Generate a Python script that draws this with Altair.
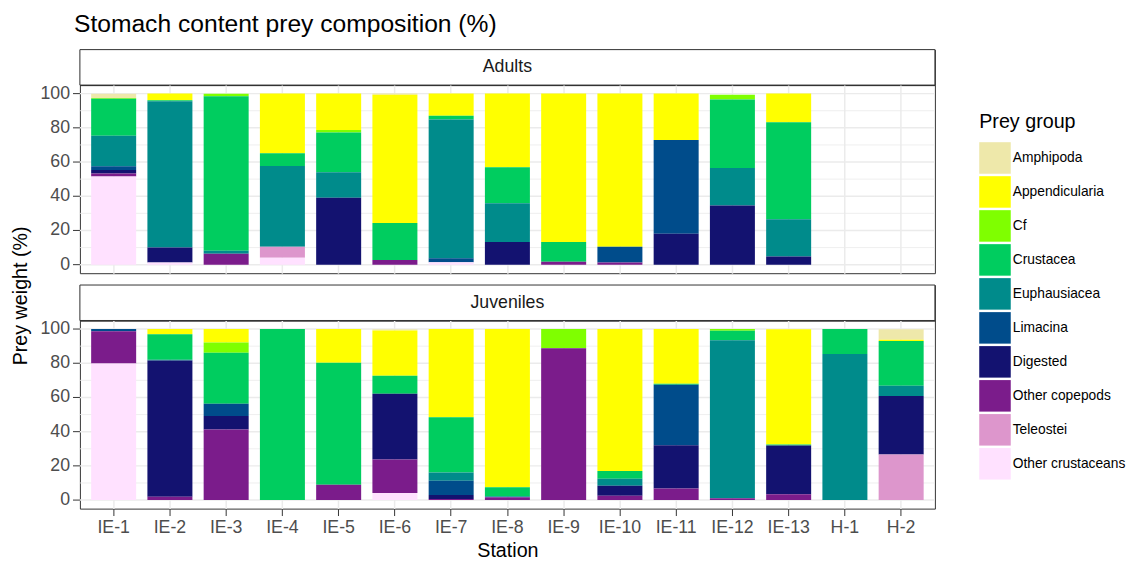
import altair as alt
import pandas as pd

stations = ["IE-1", "IE-2", "IE-3", "IE-4", "IE-5", "IE-6", "IE-7", "IE-8",
            "IE-9", "IE-10", "IE-11", "IE-12", "IE-13", "H-1", "H-2"]
groups = ["Amphipoda", "Appendicularia", "Cf", "Crustacea", "Euphausiacea",
          "Limacina", "Digested", "Other copepods", "Teleostei", "Other crustaceans"]
colors = ["#EEE8AA", "#FFFF00", "#7FFF00", "#00CD5F", "#008B8B",
          "#004C8B", "#131270", "#7B1C8B", "#DD96CC", "#FFE1FF"]
panels = ["Adults", "Juveniles"]
y_ticks = [0, 20, 40, 60, 80, 100]
minor_grid = [10, 30, 50, 70, 90]

# ---- Adults (values per station, order as in `stations`) ----
ad_amphipoda = [2.5, 0, 0, 0, 0, 0.6, 0, 0, 0, 0, 0, 0, 0, 0, 0]
ad_appendicularia = [0, 3.9, 0, 34.8, 21.3, 75.0, 13.0, 43.0, 86.7, 89.5, 27.1, 0, 16.8, 0, 0]
ad_cf = [0.4, 0, 1.5, 0, 1.5, 0, 0, 0, 0, 0, 0, 2.9, 0, 0, 0]
ad_crustacea = [21.7, 0.6, 90.3, 7.5, 23.2, 21.7, 2.1, 21.1, 11.6, 0, 0, 40.0, 56.7, 0, 0]
ad_euphausiacea = [17.8, 85.5, 1.7, 47.2, 14.9, 0, 81.2, 22.6, 0, 0, 0, 21.9, 21.7, 0, 0]
ad_limacina = [2.1, 0, 0, 0, 0, 0, 2.3, 0, 0, 9.3, 54.9, 0, 0, 0, 0]
ad_digested = [2.1, 8.7, 0, 0, 39.1, 0, 0, 13.3, 0, 0, 18.0, 34.6, 4.8, 0, 0]
ad_other_copepods = [1.7, 0, 6.4, 0, 0, 2.7, 0, 0, 1.7, 1.2, 0, 0, 0, 0, 0]
ad_teleostei = [0, 0, 0, 6.4, 0, 0, 0, 0, 0, 0, 0, 0, 0, 0, 0]
ad_other_crustaceans = [51.6, 1.3, 0, 4.1, 0, 0, 1.4, 0, 0, 0, 0, 0, 0, 0, 0]

# ---- Juveniles ----
ju_amphipoda = [0, 0, 0, 0, 0, 0.8, 0, 0, 0, 0, 0, 0, 0, 0, 6.1]
ju_appendicularia = [0, 3.1, 7.9, 0, 19.7, 26.4, 51.5, 92.5, 0, 83.0, 32.0, 0, 67.4, 0, 0.8]
ju_cf = [0, 0, 5.9, 0, 0, 0, 0, 0, 11.3, 0, 0, 1.0, 0, 0, 0]
ju_crustacea = [0, 14.9, 29.9, 100, 71.3, 10.5, 32.4, 5.2, 0, 4.6, 0.6, 5.6, 0.6, 14.6, 26.2]
ju_euphausiacea = [0, 0.4, 0, 0, 0, 0, 4.8, 0.6, 0, 4.0, 0, 92.3, 0, 85.4, 5.9]
ju_limacina = [1.3, 0, 7.1, 0, 0, 0, 8.4, 0, 0, 0, 35.4, 0, 0, 0, 0]
ju_digested = [0, 79.7, 8.0, 0, 0, 38.5, 2.3, 0, 0, 5.9, 25.3, 0, 28.5, 0, 34.3]
ju_other_copepods = [18.8, 1.9, 41.2, 0, 9.0, 19.5, 0.6, 1.7, 88.7, 2.5, 6.7, 1.1, 3.4, 0, 0]
ju_teleostei = [0, 0, 0, 0, 0, 0, 0, 0, 0, 0, 0, 0, 0, 0, 26.6]
ju_other_crustaceans = [79.9, 0, 0, 0, 0, 4.2, 0, 0, 0, 0, 0, 0, 0, 0, 0]

adults = [ad_amphipoda, ad_appendicularia, ad_cf, ad_crustacea, ad_euphausiacea,
          ad_limacina, ad_digested, ad_other_copepods, ad_teleostei, ad_other_crustaceans]
juveniles = [ju_amphipoda, ju_appendicularia, ju_cf, ju_crustacea, ju_euphausiacea,
             ju_limacina, ju_digested, ju_other_copepods, ju_teleostei, ju_other_crustaceans]


def make_df(series_list):
    rows = []
    for gi, (g, vals) in enumerate(zip(groups, series_list)):
        for s, v in zip(stations, vals):
            if v > 0:
                rows.append({"station": s, "group": g, "value": v,
                             "stack": len(groups) - gi})
    return pd.DataFrame(rows)


FONT = "Liberation Sans"
W, H, STRIP, GAP = 868, 191, 36, 12
TOTAL_H = 2 * (STRIP + H) + GAP
GRID = "#EBEBEB"
BORDER = "#333333"
TICK_TEXT = "#4D4D4D"
TICK_LEN = 7

y_scale = alt.Scale(domain=[-5, 105], nice=False, zero=False)
x_scale = alt.Scale(domain=stations, paddingInner=0.2, paddingOuter=0.2)

legend = alt.Legend(
    title="Prey group", orient="none", legendX=984, legendY=64,
    symbolType="square", symbolSize=1024, symbolStrokeWidth=0, symbolOpacity=1,
    labelFontSize=14, labelColor="black", labelOffset=2, labelFont=FONT,
    titleFontSize=20, titleFontWeight="normal", titleColor="black", titleFont=FONT,
    titlePadding=10, rowPadding=2.5, padding=0,
)
color = alt.Color("group:N", scale=alt.Scale(domain=groups, range=colors), legend=legend)

no_border = alt.ViewBackground(strokeOpacity=0)
major_df = pd.DataFrame({"t": y_ticks})
minor_df = pd.DataFrame({"t": minor_grid})


def strip(name):
    src = pd.DataFrame({"panel": [name]})
    box = alt.Chart(src).mark_rect(fill="white", stroke=BORDER, strokeWidth=1).encode(
        x=alt.value(0), x2=alt.value(W), y=alt.value(0), y2=alt.value(STRIP)
    )
    txt = alt.Chart(src).mark_text(fontSize=18, color="#1A1A1A", font=FONT).encode(
        text="panel:N"
    )
    return alt.layer(box, txt).properties(width=W, height=STRIP)


def spacer():
    return alt.Chart(pd.DataFrame({"panel": [""]})).mark_text().encode(
        text="panel:N"
    ).properties(width=W, height=GAP, view=no_border)


def y_title():
    return alt.Chart(pd.DataFrame({"label": ["Prey weight (%)"]})).mark_text(
        angle=270, fontSize=20, color="black", font=FONT
    ).encode(
        text="label:N", y=alt.value(STRIP + (H + GAP + STRIP + H) / 2 - 1)
    ).properties(width=22, height=TOTAL_H, view=no_border)


def bars(series_list, bottom):
    df = make_df(series_list)
    if bottom:
        x_axis = alt.Axis(title="Station", labelAngle=0, labelFontSize=18, labelColor=TICK_TEXT,
                          labelFont=FONT, tickSize=TICK_LEN, tickColor=BORDER, domain=False,
                          grid=True, gridColor=GRID, gridWidth=1.5, bandPosition=0.5,
                          titleFontSize=20, titleFontWeight="normal", titleColor="black",
                          titleFont=FONT, labelPadding=3, titlePadding=5)
    else:
        x_axis = alt.Axis(title=None, labels=False, ticks=False, domain=False, grid=True,
                          gridColor=GRID, gridWidth=1.5, bandPosition=0.5)
    y_enc = alt.Y("t:Q", scale=y_scale, axis=None)
    minor = alt.Chart(minor_df).mark_rule(color=GRID, strokeWidth=0.8).encode(y=y_enc)
    major = alt.Chart(major_df).mark_rule(color=GRID, strokeWidth=1.5).encode(y=y_enc)
    ticks = alt.Chart(major_df).mark_rule(color=BORDER, strokeWidth=1, clip=False).encode(
        y=y_enc, x=alt.value(-TICK_LEN), x2=alt.value(0)
    )
    labels = alt.Chart(major_df).mark_text(
        align="right", baseline="middle", fontSize=18, color=TICK_TEXT, font=FONT, clip=False
    ).encode(y=y_enc, x=alt.value(-TICK_LEN - 3), text=alt.Text("t:Q", format="d"))
    b = alt.Chart(df).mark_bar().encode(
        x=alt.X("station:N", scale=x_scale, sort=stations, axis=x_axis),
        y=alt.Y("value:Q", scale=y_scale, axis=None, stack="zero"),
        color=color,
        order=alt.Order("stack:Q", sort="ascending"),
    )
    return alt.layer(minor, major, b, ticks, labels).properties(width=W, height=H)


panels_col = alt.vconcat(
    strip(panels[0]), bars(adults, False), spacer(),
    strip(panels[1]), bars(juveniles, True),
    spacing=0, bounds="flush",
)

chart = alt.hconcat(y_title(), panels_col, spacing=8).properties(
    title=alt.TitleParams(
        text="Stomach content prey composition (%)", anchor="start", frame="group",
        fontSize=25, fontWeight="normal", color="black", font=FONT, offset=12, dx=65,
    ),
    padding={"left": 2, "top": 0, "right": 0, "bottom": 0},
).configure(font=FONT).configure_view(stroke=BORDER, strokeWidth=1)

chart.save("out.html", embed_options={"renderer": "svg", "actions": False})
